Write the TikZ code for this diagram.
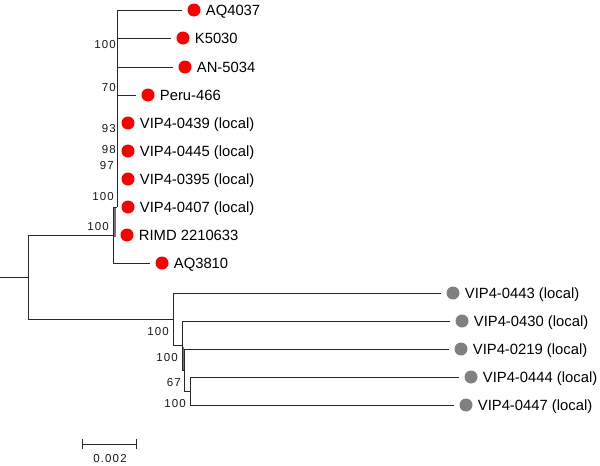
\documentclass[tikz,border=0pt]{standalone}
\usepackage{fontspec}
\setmainfont{Liberation Sans}
\newfontfamily\bootfont[LetterSpace=10]{Liberation Sans}
\usetikzlibrary{positioning}
\definecolor{tipred}{RGB}{250,0,0}
\definecolor{tipgray}{RGB}{128,128,128}
\definecolor{brcol}{RGB}{40,40,40}
\begin{document}
\begin{tikzpicture}[x=1pt,y=-1pt,
  br/.style={draw=brcol,line width=0.9pt},
  thickbr/.style={draw=black!55,line width=2.6pt},
  rdot/.style={circle,fill=tipred,minimum size=13pt,inner sep=0pt},
  gdot/.style={circle,fill=tipgray,minimum size=13pt,inner sep=0pt},
  leaf/.style={right=5pt of #1,font=\fontsize{14.8}{16}\selectfont,inner sep=0pt,text height=10.6pt,text depth=0pt},
  boot/.style={anchor=east,font=\bootfont\fontsize{11.5}{12}\selectfont,inner sep=0pt,text height=8.2pt,text depth=0pt,text=black!90},
  tobranch/.style={br,shorten >=5pt}
]
\useasboundingbox (0,0) rectangle (600,466);

% ---------- red clade tips ----------
\node[rdot] (d1) at (194,10) {};
\node[rdot] (d2) at (183,38) {};
\node[rdot] (d3) at (185,67) {};
\node[rdot] (d4) at (148,95) {};
\node[rdot] (d5) at (128,123) {};
\node[rdot] (d6) at (128,151) {};
\node[rdot] (d7) at (128,179) {};
\node[rdot] (d8) at (128,207) {};
\node[rdot] (d9) at (127,235) {};
\node[rdot] (d10) at (162,263) {};
\node[leaf=d1] (l1) {AQ4037};
\node[leaf=d2] (l2) {K5030};
\node[leaf=d3] (l3) {AN-5034};
\node[leaf=d4] (l4) {Peru-466};
\node[leaf=d5] (l5) {VIP4-0439 (local)};
\node[leaf=d6] (l6) {VIP4-0445 (local)};
\node[leaf=d7] (l7) {VIP4-0395 (local)};
\node[leaf=d8] (l8) {VIP4-0407 (local)};
\node[leaf=d9] (l9) {RIMD 2210633};
\node[leaf=d10] (l10) {AQ3810};

% ---------- gray clade tips ----------
\node[gdot] (g1) at (453,293) {};
\node[gdot] (g2) at (462,321) {};
\node[gdot] (g3) at (461,349) {};
\node[gdot] (g4) at (471,377) {};
\node[gdot] (g5) at (466,405) {};
\node[leaf=g1] (m1) {VIP4-0443 (local)};
\node[leaf=g2] (m2) {VIP4-0430 (local)};
\node[leaf=g3] (m3) {VIP4-0219 (local)};
\node[leaf=g4] (m4) {VIP4-0444 (local)};
\node[leaf=g5] (m5) {VIP4-0447 (local)};

% ---------- internal coordinates ----------
\coordinate (root) at (0,277);
\coordinate (A) at (28,277);
\coordinate (Atop) at (28,235);
\coordinate (Abot) at (28,319);
\coordinate (B) at (113,235);
\coordinate (Btop) at (113,207);
\coordinate (Bbot) at (113,263);
\coordinate (Ctop) at (117,10);
\coordinate (Cbot) at (117,207);
\coordinate (c2) at (117,38);
\coordinate (c3) at (117,67);
\coordinate (c4) at (117,95);
\coordinate (G) at (173,319);
\coordinate (Gtop) at (173,293);
\coordinate (Gbot) at (173,345);
\coordinate (D) at (182,345);
\coordinate (Dtop) at (182,321);
\coordinate (Dbot) at (182,370);
\coordinate (E) at (184,370);
\coordinate (Etop) at (184,349);
\coordinate (Ebot) at (184,391);
\coordinate (F) at (190,391);
\coordinate (Ftop) at (190,377);
\coordinate (Fbot) at (190,405);

% ---------- thick zero-length segments ----------
\draw[thickbr] (114.6,208) -- (114.6,237);
\draw[thickbr,line width=1.8pt] (182.6,347) -- (182.6,370);

% ---------- branches ----------
\draw[br] (root) -- (A);
\draw[br] (Atop) -- (Abot);
\draw[br] (Atop) -- (B);
\draw[br] (Btop) -- (Bbot);
\draw[br] (Btop) -- (Cbot);
\draw[br] (Ctop) -- (Cbot);
\draw[tobranch] (Ctop) -- (d1.west);
\draw[tobranch] (c2) -- (d2.west);
\draw[tobranch] (c3) -- (d3.west);
\draw[tobranch] (c4) -- (d4.west);
\draw[tobranch] (Bbot) -- (d10.west);

\draw[br] (Abot) -- (G);
\draw[br] (Gtop) -- (Gbot);
\draw[tobranch] (Gtop) -- (g1.west);
\draw[br] (Gbot) -- (D);
\draw[br] (Dtop) -- (Dbot);
\draw[tobranch] (Dtop) -- (g2.west);
\draw[br] (Dbot) -- (E);
\draw[br] (Etop) -- (Ebot);
\draw[tobranch] (Etop) -- (g3.west);
\draw[br] (Ebot) -- (F);
\draw[br] (Ftop) -- (Fbot);
\draw[tobranch] (Ftop) -- (g4.west);
\draw[tobranch] (Fbot) -- (g5.west);

% ---------- bootstrap values ----------
\node[boot] (b1) at (116,44) {100};
\node[boot] (b2) at (116,87) {70};
\node[boot] (b3) at (116,128) {93};
\node[boot] (b4) at (116,149) {98};
\node[boot] (b5) at (114,165) {97};
\node[boot] (b6) at (114,196) {100};
\node[boot] (b7) at (109,226) {100};
\node[boot] (b8) at (169,331) {100};
\node[boot] (b9) at (178,357) {100};
\node[boot] (b10) at (181,382) {67};
\node[boot] (b11) at (186,403) {100};

% ---------- scale bar ----------
\coordinate (s1) at (82,444);
\coordinate (s2) at (136,444);
\draw[br] (s1) -- (s2);
\draw[br] ([yshift=-5pt]s1) -- ([yshift=5pt]s1);
\draw[br] ([yshift=-5pt]s2) -- ([yshift=5pt]s2);
\node[boot,anchor=center] (slab) at (110,458) {0.002};
\end{tikzpicture}
\end{document}
